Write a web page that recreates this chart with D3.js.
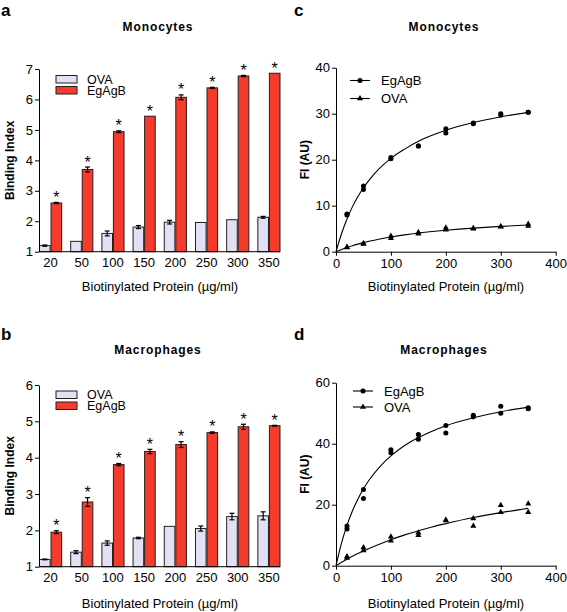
<!DOCTYPE html>
<html><head><meta charset="utf-8">
<script src="https://cdn.jsdelivr.net/npm/d3@7"></script>
<style>
body{margin:0;background:#fff;}
svg{display:block;font-family:"Liberation Sans",Arial,sans-serif;}
</style></head>
<body>
<svg id="c" width="567" height="612"></svg>
<script>
// ---------- DATA ----------
const concentrations = ["20","50","100","150","200","250","300","350"];
const seriesNames = ["OVA","EgAgB"];

// Panel a – Monocytes binding index
const monoOVA      = [1.20,1.34,1.60,1.81,1.97,1.96,2.05,2.13];
const monoOVAErr   = [0.02,0.00,0.08,0.05,0.06,0.00,0.00,0.03];
const monoEgAgB    = [2.60,3.70,4.94,5.45,6.07,6.38,6.77,6.86];
const monoEgAgBErr = [0.02,0.08,0.03,0.00,0.08,0.02,0.02,0.00];

// Panel b – Macrophages binding index
const macOVA      = [1.20,1.40,1.65,1.79,2.11,2.05,2.38,2.40];
const macOVAErr   = [0.01,0.04,0.06,0.02,0.00,0.07,0.09,0.11];
const macEgAgB    = [1.95,2.78,3.81,4.17,4.36,4.69,4.85,4.88];
const macEgAgBErr = [0.04,0.12,0.03,0.06,0.08,0.02,0.07,0.01];

// Panels c/d – fluorescence intensity replicates
const doseX = [20,50,100,150,200,250,300,350];
const monoFIEgAgB1 = [8.2,14.3,20.5,23.0,26.7,28.0,30.0,30.3];
const monoFIEgAgB2 = [8.0,13.5,20.2,23.0,25.8,27.8,29.7,30.3];
const monoFIOVA1   = [1.0,1.8,3.4,4.2,5.2,5.1,5.5,6.0];
const monoFIOVA2   = [0.9,1.7,2.9,3.9,4.8,5.0,5.4,5.6];
const macFIEgAgB1  = [13.0,25.0,38.0,43.0,46.0,49.3,52.3,51.5];
const macFIEgAgB2  = [12.0,22.0,37.0,41.5,43.5,48.8,50.0,51.8];
const macFIOVA1    = [3.0,6.0,9.5,10.8,15.0,15.5,19.8,20.3];
const macFIOVA2    = [2.5,5.0,8.2,10.0,14.8,13.0,17.5,17.5];

// fitted saturation curves
const fitX = [0,10,20,30,40,50,60,80,100,125,150,175,200,250,300,350];
const monoFitEgAgB = [0,3.9,7.1,9.8,12.0,13.9,15.5,18.2,20.3,22.3,24.0,25.3,26.4,28.1,29.3,30.3];
const monoFitOVA   = [0,0.48,0.91,1.30,1.65,1.97,2.26,2.77,3.20,3.66,4.05,4.38,4.66,5.13,5.50,5.80];
const macFitEgAgB  = [0,7.4,13.2,18.0,21.9,25.2,28.0,32.5,36.0,39.4,42.0,44.1,45.9,48.5,50.5,52.0];
const macFitOVA    = [0,1.1,2.1,3.1,4.0,4.8,5.6,7.1,8.5,10.1,11.4,12.7,13.8,15.8,17.4,18.8];

const barTicksMono = [1,2,3,4,5,6,7];
const barTicksMac  = [1,2,3,4,5,6];
const fiTicksMono  = [0,10,20,30,40];
const fiTicksMac   = [0,20,40,60];
const doseTicks    = [0,100,200,300,400];

// ---------- STYLE ----------
const C_OVA = "#e1e1f5", C_EG = "#f43b2c", C_STROKE = "#2b1c1c";
const svg = d3.select("#c");

function axisStyle(g, fs){
  g.selectAll("path,line").attr("stroke","#000").attr("stroke-width",1);
  g.selectAll("text").attr("font-size",fs).attr("fill","#000").attr("font-family",'"Liberation Sans",Arial,sans-serif');
}

function text(x,y,s,o){
  const t = svg.append("text").attr("x",x).attr("y",y).text(s).attr("fill","#000");
  Object.entries(o||{}).forEach(([k,v])=>t.attr(k,v));
  return t;
}

function barPanel(cfg){
  const x = d3.scaleBand().domain(concentrations).range([cfg.x0+0.5,cfg.x1]).paddingInner(0.29).paddingOuter(0);
  const xs = d3.scaleBand().domain(seriesNames).range([0,x.bandwidth()]).paddingInner(0.08);
  const y = d3.scaleLinear().domain(cfg.yDomain).range([cfg.yBottom,cfg.yTop]);
  const series = [
    {name:"OVA",vals:cfg.ova,err:cfg.ovaErr,color:C_OVA},
    {name:"EgAgB",vals:cfg.eg,err:cfg.egErr,color:C_EG}
  ];
  series.forEach(s=>{
    const g = svg.append("g");
    concentrations.forEach((c,i)=>{
      const bx = x(c)+xs(s.name), bw = xs.bandwidth();
      g.append("rect").attr("x",bx).attr("y",y(s.vals[i])).attr("width",bw)
        .attr("height",y(cfg.yDomain[0])-y(s.vals[i])).attr("fill",s.color)
        .attr("stroke",C_STROKE).attr("stroke-width",1);
      const e = s.err[i], cx = bx+bw/2;
      if(e>0){
        g.append("line").attr("x1",cx).attr("x2",cx).attr("y1",y(s.vals[i]-e)).attr("y2",y(s.vals[i]+e)).attr("stroke","#000").attr("stroke-width",1.2);
        [s.vals[i]-e,s.vals[i]+e].forEach(v=>g.append("line").attr("x1",cx-2.5).attr("x2",cx+2.5).attr("y1",y(v)).attr("y2",y(v)).attr("stroke","#000").attr("stroke-width",1.2));
      }
      if(s.name==="EgAgB"){
        text(cx, y(s.vals[i]+e)+0.5, "*", {"text-anchor":"middle","font-size":16});
      }
    });
  });
  const ya = svg.append("g").attr("transform",`translate(${cfg.x0},0)`)
    .call(d3.axisLeft(y).tickValues(cfg.yTicks).tickSize(4).tickSizeOuter(0).tickPadding(2).tickFormat(d3.format("d")));
  axisStyle(ya,13);
  const xa = svg.append("g").attr("transform",`translate(0,${cfg.yBottom})`)
    .call(d3.axisBottom(x).tickSize(0).tickPadding(6));
  xa.select(".domain").attr("d",`M${cfg.x0},0H${cfg.x1}`);
  axisStyle(xa,13);
  // legend
  series.forEach((s,i)=>{
    const ly = cfg.legY + i*11;
    svg.append("rect").attr("x",56).attr("y",ly).attr("width",21).attr("height",7.5)
      .attr("fill",s.color).attr("stroke",C_STROKE).attr("stroke-width",1);
    text(87, ly+8, s.name, {"font-size":12.5});
  });
  // titles
  text(158, cfg.titleY, cfg.title, {"text-anchor":"middle","font-size":12,"font-weight":"bold","letter-spacing":"0.9px"});
  text(10, (cfg.yTop+cfg.yBottom)/2, "Binding Index", {"text-anchor":"middle","font-size":12,"font-weight":"bold",
    "transform":`rotate(-90,10,${(cfg.yTop+cfg.yBottom)/2})`, "dy":"0.35em"});
  text(160, cfg.xTitleY, "Biotinylated Protein (\u00b5g/ml)", {"text-anchor":"middle","font-size":13});
  text(1, cfg.letterY, cfg.letter, {"font-size":17,"font-weight":"bold"});
}

function curvePanel(cfg){
  const x = d3.scaleLinear().domain([0,400]).range([336,555.7]);
  const y = d3.scaleLinear().domain(cfg.yDomain).range([cfg.yBottom,cfg.yTop]);
  const line = d3.line().x(d=>x(d[0])).y(d=>y(d[1])).curve(d3.curveMonotoneX);
  const sym = {circle:d3.symbol().type(d3.symbolCircle).size(20), tri:d3.symbol().type(d3.symbolTriangle).size(16)};
  [[cfg.fitEg,"circle",cfg.eg1,cfg.eg2],[cfg.fitOva,"tri",cfg.ova1,cfg.ova2]].forEach(([fit,s,r1,r2])=>{
    svg.append("path").attr("d",line(fitX.map((v,i)=>[v,fit[i]]))).attr("fill","none").attr("stroke","#000").attr("stroke-width",1.1);
    [r1,r2].forEach(r=>doseX.forEach((v,i)=>{
      svg.append("path").attr("d",sym[s]()).attr("transform",`translate(${x(v)},${y(r[i])})`).attr("fill","#000");
    }));
  });
  const ya = svg.append("g").attr("transform","translate(336,0)")
    .call(d3.axisLeft(y).tickValues(cfg.yTicks).tickSize(4).tickSizeOuter(0).tickPadding(2));
  axisStyle(ya,13);
  const xa = svg.append("g").attr("transform",`translate(0,${cfg.yBottom})`)
    .call(d3.axisBottom(x).tickValues(doseTicks).tickSize(4).tickSizeOuter(0).tickPadding(3));
  axisStyle(xa,13);
  // legend
  [["EgAgB","circle"],["OVA","tri"]].forEach(([n,s],i)=>{
    const ly = cfg.legY + i*cfg.legDy;
    svg.append("line").attr("x1",cfg.legX).attr("x2",cfg.legX+20).attr("y1",ly).attr("y2",ly).attr("stroke","#000").attr("stroke-width",1.1);
    svg.append("path").attr("d",sym[s]()).attr("transform",`translate(${cfg.legX+10},${ly})`).attr("fill","#000");
    text(cfg.legX+31, ly+4.5, n, {"font-size":13});
  });
  text(444, cfg.titleY, cfg.title, {"text-anchor":"middle","font-size":12,"font-weight":"bold","letter-spacing":"0.9px"});
  const yc = (cfg.yTop+cfg.yBottom)/2;
  text(305, yc, "FI (AU)", {"text-anchor":"middle","font-size":12,"font-weight":"bold","transform":`rotate(-90,305,${yc})`,"dy":"0.35em"});
  text(446, cfg.xTitleY, "Biotinylated Protein (\u00b5g/ml)", {"text-anchor":"middle","font-size":13});
  text(294, cfg.letterY, cfg.letter, {"font-size":17,"font-weight":"bold"});
}

barPanel({letter:"a",letterY:16,title:"Monocytes",titleY:31,x0:39,x1:280,yDomain:[1,7],yTop:69,yBottom:251.7,yTicks:barTicksMono,
  ova:monoOVA,ovaErr:monoOVAErr,eg:monoEgAgB,egErr:monoEgAgBErr,legY:75.5,xTitleY:291});
barPanel({letter:"b",letterY:340,title:"Macrophages",titleY:354,x0:39,x1:280,yDomain:[1,6],yTop:385,yBottom:566.7,yTicks:barTicksMac,
  ova:macOVA,ovaErr:macOVAErr,eg:macEgAgB,egErr:macEgAgBErr,legY:391,xTitleY:607.5});
curvePanel({letter:"c",letterY:16,title:"Monocytes",titleY:31,yDomain:[0,40],yTop:67.7,yBottom:251.7,yTicks:fiTicksMono,
  eg1:monoFIEgAgB1,eg2:monoFIEgAgB2,ova1:monoFIOVA1,ova2:monoFIOVA2,fitEg:monoFitEgAgB,fitOva:monoFitOVA,
  legX:350,legY:80.5,legDy:18,xTitleY:291});
curvePanel({letter:"d",letterY:340,title:"Macrophages",titleY:354,yDomain:[0,60],yTop:382.7,yBottom:565.7,yTicks:fiTicksMac,
  eg1:macFIEgAgB1,eg2:macFIEgAgB2,ova1:macFIOVA1,ova2:macFIOVA2,fitEg:macFitEgAgB,fitOva:macFitOVA,
  legX:353,legY:391,legDy:16,xTitleY:607.5});
</script>
</body></html>
